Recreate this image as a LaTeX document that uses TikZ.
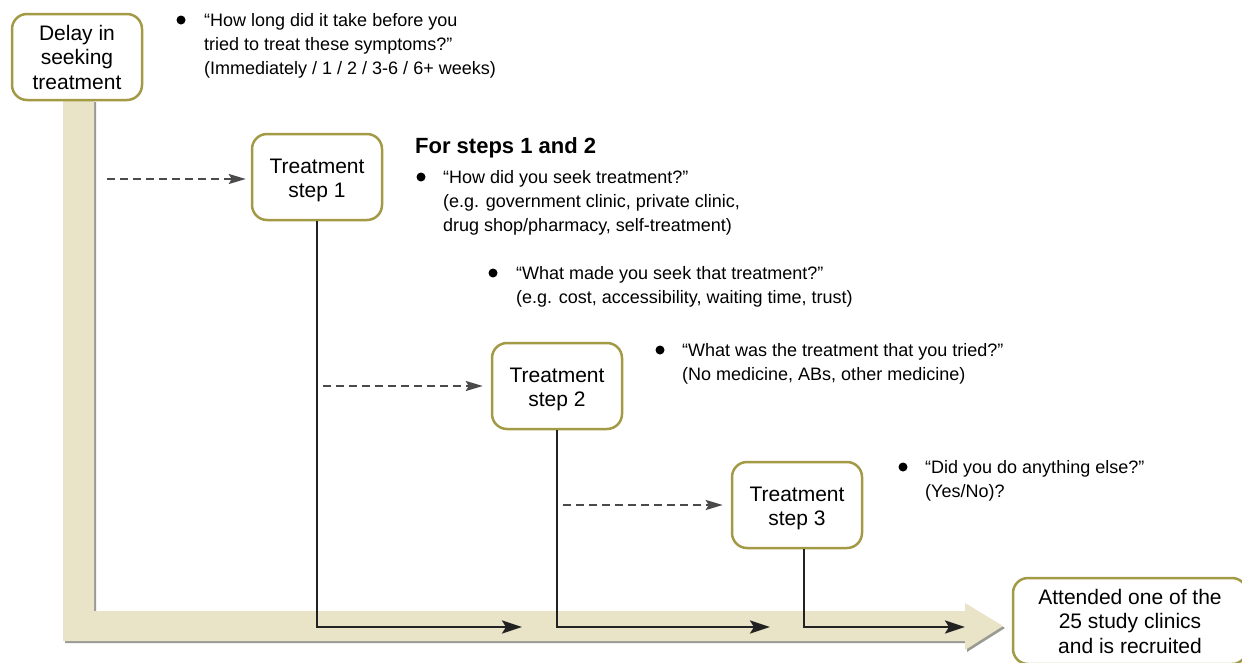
\documentclass[tikz,border=0pt]{standalone}
\usepackage{fontspec}
\setmainfont{Liberation Sans}
\usetikzlibrary{positioning,arrows.meta}
\definecolor{cajaOliva}{HTML}{A39A45}
\definecolor{bandaBeige}{HTML}{E9E3C7}
\definecolor{sombraGris}{HTML}{9A9A94}
\definecolor{lineaOscura}{HTML}{222222}
\definecolor{guionGris}{HTML}{4A4A4A}

\begin{document}
\begin{tikzpicture}[x=1pt, y=-1pt,
      caja/.style={rounded corners=15pt, draw=cajaOliva, line width=2.5pt, fill=white,
                   minimum width=130pt, minimum height=86pt, align=center, inner sep=0pt,
                   font=\fontsize{21}{24.5}\selectfont},
      pasocaja/.style={caja, text height=46pt},
      pregunta/.style={anchor=north west, align=left, inner sep=0pt,
                   font=\fontsize{18}{24}\selectfont},
      punto/.style={circle, fill=black, inner sep=0pt, minimum size=9pt},
      paso/.style={-{Stealth[length=20pt,width=13pt,inset=4pt]}, line width=2.5pt, draw=lineaOscura},
      salto/.style={-{Stealth[length=17pt,width=10pt,inset=3pt]}, line width=2pt, draw=guionGris,
                   dash pattern=on 8pt off 5pt, shorten >=8pt}]
    \useasboundingbox (0,0) rectangle (1242,662);
    \clip (0,0) rectangle (1242,662);
    % banda de fondo
    \fill[sombraGris, shift={(2,2)}] (63,100) -- (63,641) -- (965,641) -- (965,650) -- (1003,626)
         -- (965,603) -- (965,611) -- (94,611) -- (94,100) -- cycle;
    \fill[bandaBeige] (63,100) -- (63,641) -- (965,641) -- (965,650) -- (1003,626)
         -- (965,603) -- (965,611) -- (94,611) -- (94,100) -- cycle;
    % cajas
    \node[caja] (demora) at (77,57) {Delay in\\ seeking\\ treatment};
    \node[pasocaja] (s1) at (317,177) {Treatment\\ step 1};
    \node[pasocaja] (s2) at (557,386) {Treatment\\ step 2};
    \node[pasocaja] (s3) at (797,505) {Treatment\\ step 3};
    \node[caja, minimum width=234pt] (fin) at (1130,621) {Attended one of the\\ 25 study clinics\\ and is recruited};
    % flechas
    \coordinate (d1) at (107,179); \coordinate (d2) at (323,386); \coordinate (d3) at (563,505);
    \draw[salto, shorten >=5pt] (d1) -- (d1 -| s1.west);
    \draw[salto] (d2) -- (d2 -| s2.west);
    \draw[salto] (d3) -- (d3 -| s3.west);
    \coordinate (f1) at (522,627); \coordinate (f2) at (770,627); \coordinate (f3) at (965,627);
    \draw[paso] (s1.south) |- (f1);
    \draw[paso] (s2.south) |- (f2);
    \draw[paso] ([xshift=7pt]s3.south) |- (f3);
    % preguntas
    \node[punto] (b0) at (181,20) {};
    \node[pregunta] (q0) at (204,13) {“How long did it take before you\\ tried to treat these symptoms?”\\ (Immediately / 1 / 2 / 3-6 / 6+ weeks)};
    \node[anchor=north west, inner sep=0pt, font=\fontsize{22}{24}\selectfont\bfseries] (hdr) at (415,137) {For steps 1 and 2};
    \node[punto] (b1) at (421,177) {};
    \node[pregunta] (q1) at (443,170) {“How did you seek treatment?”\\ (e.g. government clinic, private clinic,\\ drug shop/pharmacy, self-treatment)};
    \node[punto] (b2) at (493,273) {};
    \node[pregunta] (q2) at (516,266) {“What made you seek that treatment?”\\ (e.g. cost, accessibility, waiting time, trust)};
    \node[punto] (b3) at (660,350) {};
    \node[pregunta] (q3) at (682,343) {“What was the treatment that you tried?”\\ (No medicine, ABs, other medicine)};
    \node[punto] (b4) at (903,467) {};
    \node[pregunta] (q4) at (925,460) {“Did you do anything else?”\\ (Yes/No)?};
  \end{tikzpicture}
\end{document}
